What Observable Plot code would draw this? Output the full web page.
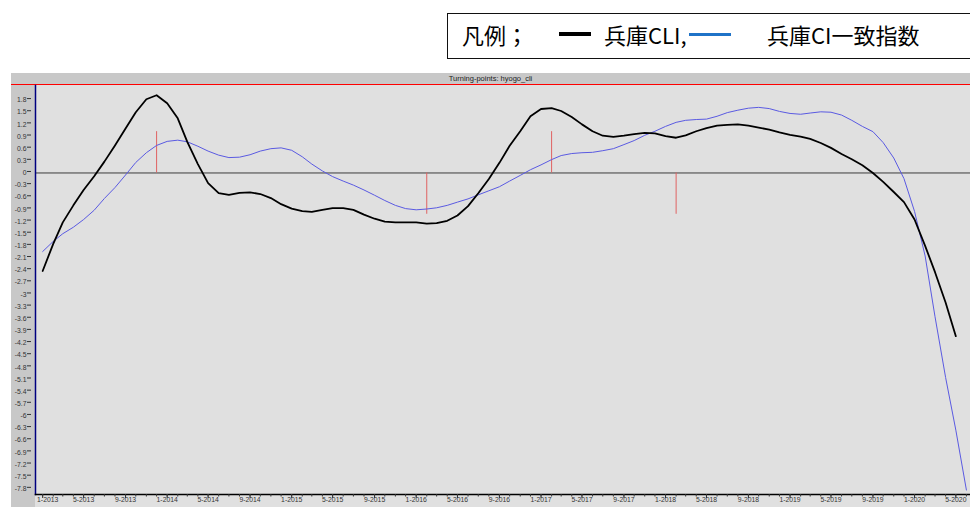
<!DOCTYPE html>
<html>
<head>
<meta charset="utf-8">
<script src="https://cdn.jsdelivr.net/npm/d3@7"></script>
<script src="https://cdn.jsdelivr.net/npm/@observablehq/plot@0.6"></script>
<style>
  html, body { margin: 0; padding: 0; background: #fff; }
  body { width: 970px; height: 507px; overflow: hidden; position: relative; font-family: "Liberation Sans", Arial, sans-serif; }
  #legend { position: absolute; left: 447px; top: 13px; width: 560px; height: 46px; border: 1.5px solid #111; box-sizing: border-box; font-family: "Noto Sans CJK JP", "Noto Sans CJK SC", sans-serif; font-size: 22px; color: #000; }
  #legend span.t { position: absolute; top: 8px; line-height: 24px; white-space: nowrap; }
  #legend span.s { position: absolute; }
  #panel { position: absolute; left: 11px; top: 73px; width: 959px; height: 434px; background: #e0e0e0; }
  #strip { position: absolute; left: 11px; top: 84px; width: 24px; height: 423px; background: #c8c8c8; }
  #titlebar { position: absolute; left: 11px; top: 73px; width: 959px; height: 11px; background: #c8c8c8; border-bottom: 1.5px solid #ff0000; font-size: 7.5px; line-height: 11px; text-align: center; color: #222; font-family: "Liberation Sans Narrow", "Liberation Sans", Arial, sans-serif; }
  #chart { position: absolute; left: 0; top: 73px; }
</style>
</head>
<body>
<div id="legend"></div>
<div id="panel"></div>
<div id="strip"></div>
<div id="titlebar"></div>
<div id="chart"></div>
<script>
// ---- data (monthly, starting January 2013) ----
const titleText = "Turning-points: hyogo_cli";
const legendLabel = "凡例；";
const seriesNames = ["兵庫CLI,", "兵庫CI一致指数"];
const startYear = 2013;

// 兵庫CLI : Jan 2013 .. May 2020
const cliValues = [
  -2.42, -1.75, -1.22, -0.80, -0.42, -0.08, 0.28, 0.68, 1.10, 1.50, 1.82, 1.92,
  1.72, 1.35, 0.77, 0.22, -0.25, -0.50, -0.54, -0.49, -0.48, -0.52, -0.62, -0.77,
  -0.88, -0.94, -0.96, -0.91, -0.87, -0.87, -0.91, -1.03, -1.13, -1.20, -1.22, -1.22,
  -1.22, -1.25, -1.24, -1.18, -1.05, -0.82, -0.50, -0.15, 0.25, 0.67, 1.03, 1.40,
  1.58, 1.60, 1.53, 1.38, 1.20, 1.03, 0.92, 0.89, 0.92, 0.96, 0.99, 0.98,
  0.91, 0.87, 0.93, 1.03, 1.11, 1.17, 1.19, 1.20, 1.17, 1.12, 1.07, 1.00,
  0.94, 0.90, 0.84, 0.74, 0.62, 0.47, 0.34, 0.19, 0.00, -0.22, -0.47, -0.72,
  -1.15, -1.80, -2.45, -3.20, -4.03
];

// 兵庫CI一致指数 : Jan 2013 .. Jun 2020
const ciValues = [
  -1.94, -1.69, -1.50, -1.34, -1.15, -0.92, -0.63, -0.36, -0.05, 0.26, 0.50, 0.68,
  0.78, 0.81, 0.77, 0.66, 0.54, 0.44, 0.38, 0.39, 0.45, 0.54, 0.60, 0.62,
  0.56, 0.40, 0.22, 0.05, -0.09, -0.20, -0.30, -0.42, -0.55, -0.68, -0.80, -0.88,
  -0.91, -0.89, -0.86, -0.80, -0.72, -0.64, -0.54, -0.44, -0.34, -0.20, -0.06, 0.08,
  0.20, 0.33, 0.43, 0.48, 0.50, 0.51, 0.55, 0.60, 0.70, 0.80, 0.93, 1.03,
  1.15, 1.25, 1.30, 1.32, 1.33, 1.40, 1.49, 1.55, 1.60, 1.62, 1.59, 1.52,
  1.47, 1.45, 1.48, 1.51, 1.50, 1.43, 1.30, 1.15, 1.02, 0.75, 0.37, -0.14,
  -0.95, -2.05, -3.55, -5.05, -6.35, -7.83
];

// turning points (peak / trough markers)
const tpMonths = ["12-2013", "2-2016", "2-2017", "2-2018"];
const tpValues = [1.02, -1.02, 1.02, -1.02];

const yTicks = [1.8, 1.5, 1.2, 0.9, 0.6, 0.3, 0, -0.3, -0.6, -0.9, -1.2, -1.5, -1.8, -2.1, -2.4, -2.7,
  -3, -3.3, -3.6, -3.9, -4.2, -4.5, -4.8, -5.1, -5.4, -5.7, -6, -6.3, -6.6, -6.9, -7.2, -7.5, -7.8];
const xTickLabels = ["1-2013", "5-2013", "9-2013", "1-2014", "5-2014", "9-2014", "1-2015", "5-2015",
  "9-2015", "1-2016", "5-2016", "9-2016", "1-2017", "5-2017", "9-2017", "1-2018", "5-2018", "9-2018",
  "1-2019", "5-2019", "9-2019", "1-2020", "5-2020"];
const xDomain = ["2012-12-11", "2020-06-13"];
const yDomain = [-7.94, 2.16];

// ---- build tables ----
const monthDate = i => new Date(Date.UTC(startYear, i, 1));
const parseLabel = s => { const [m, y] = s.split("-").map(Number); return new Date(Date.UTC(y, m - 1, 1)); };
const cliData = cliValues.map((v, i) => ({ date: monthDate(i), value: v }));
const ciData = ciValues.map((v, i) => ({ date: monthDate(i), value: v }));
const tpData = tpMonths.map((s, i) => ({ date: parseLabel(s), value: tpValues[i] }));
const majorTicks = xTickLabels.map(parseLabel);
const minorTicks = d3.utcMonth.range(monthDate(0), monthDate(ciValues.length));
const fmtX = d => `${d.getUTCMonth() + 1}-${d.getUTCFullYear()}`;

// ---- legend & title ----
const legend = document.getElementById("legend");
legend.innerHTML = `
  <span class="t" style="left:14px">${legendLabel}</span>
  <span class="s" style="left:111px;top:18px;width:32px;height:4px;background:#000"></span>
  <span class="t" style="left:156px">${seriesNames[0]}</span>
  <span class="s" style="left:241px;top:18.5px;width:42px;height:3.5px;background:#1f73c8"></span>
  <span class="t" style="left:319px">${seriesNames[1]}</span>`;
document.getElementById("titlebar").textContent = titleText;

// ---- chart ----
const chart = Plot.plot({
  width: 970,
  height: 434,
  marginTop: 12,
  marginBottom: 13,
  marginLeft: 35,
  marginRight: 0,
  style: { background: "transparent", fontFamily: "Liberation Sans, Arial, sans-serif", fontSize: "6.8px", color: "#333", overflow: "visible" },
  x: { type: "utc", domain: xDomain.map(s => new Date(s)), label: null },
  y: { domain: yDomain, label: null },
  marks: [
    Plot.frame({ fill: "#e0e0e0", stroke: null }),
    Plot.ruleY([0], { stroke: "#3c3c3c", strokeWidth: 1 }),
    Plot.ruleX(tpData, { x: "date", y1: 0, y2: "value", stroke: "#e06262", strokeWidth: 1 }),
    Plot.line(ciData, { x: "date", y: "value", stroke: "#5a5ae2", strokeWidth: 1 }),
    Plot.line(cliData, { x: "date", y: "value", stroke: "#000", strokeWidth: 1.8 }),
    Plot.frame({ anchor: "left", stroke: "#000080", strokeWidth: 1.5 }),
    Plot.frame({ anchor: "bottom", stroke: "#000", strokeWidth: 1.5 }),
    Plot.axisY({ ticks: yTicks, tickSize: 4, dx: -4, dy: -1.5, tickFormat: () => "", stroke: "#333", label: null }),
    Plot.axisY({ ticks: yTicks, tickSize: 0, tickPadding: 9, tickFormat: d => String(d), fill: "#333", label: null }),
    Plot.axisX({ ticks: minorTicks, tickSize: 2.5, tickFormat: () => "", stroke: "#333", label: null }),
    Plot.axisX({ ticks: majorTicks, tickSize: 4, tickFormat: () => "", stroke: "#333", label: null }),
    Plot.axisX({ ticks: majorTicks.slice(1), tickSize: 0, tickPadding: 3, tickFormat: fmtX, fill: "#333", label: null }),
    Plot.axisX({ ticks: majorTicks.slice(0, 1), tickSize: 0, tickPadding: 3, dx: 5, tickFormat: fmtX, fill: "#333", label: null })
  ]
});
document.getElementById("chart").appendChild(chart);
</script>
</body>
</html>
